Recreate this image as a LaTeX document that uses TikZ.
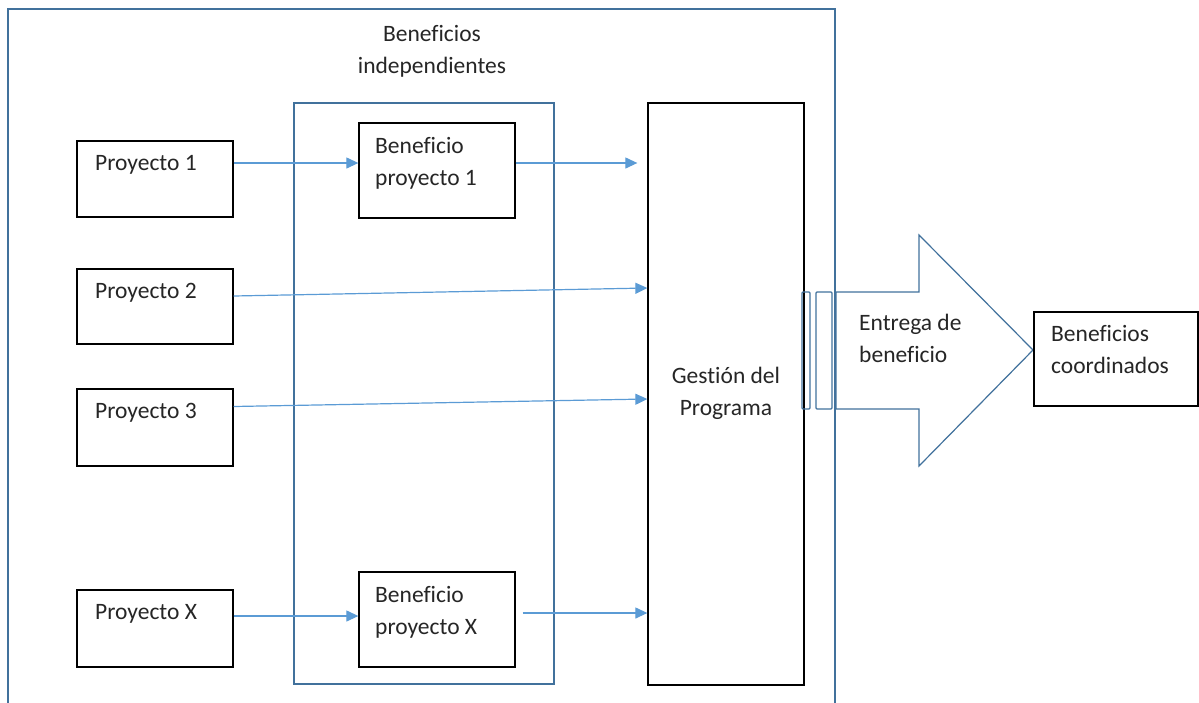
\documentclass[tikz,border=0pt]{standalone}
\usepackage{fontspec}
\setmainfont{Carlito}[Ligatures=NoCommon]
\usetikzlibrary{arrows.meta}
\definecolor{frameblue}{RGB}{65,113,156}
\definecolor{arrowblue}{RGB}{91,155,213}
\definecolor{inkgray}{RGB}{38,38,38}

\begin{document}
\begin{tikzpicture}[x=1pt,y=-1pt,
  box/.style={draw=black, line width=1.3pt, fill=white, inner sep=0pt,
              minimum width=156pt},
  frame/.style={draw=frameblue, line width=1.2pt, inner sep=0pt},
  arr/.style={draw=arrowblue, line width=1.2pt,
              -{Triangle[length=12pt,width=11pt]}},
  lbl/.style={inner sep=0pt, font=\fontsize{23.5}{32}\selectfont,
              text=inkgray, align=left},
]
\useasboundingbox (0,0) rectangle (1199,702);
\clip (0,0) rectangle (1199,702);

% frames
\node[frame, minimum width=827pt, minimum height=711pt] (outer) at (421.5,364.5) {};
\node[frame, minimum width=260pt, minimum height=581pt] (inner) at (424,393.5) {};
\node[lbl, align=center, anchor=base] (title) at (432,73) {Beneficios\\independientes};

% project boxes
\node[box, minimum height=76pt] (p1) at (155,179) {};
\node[box, minimum height=75pt] (p2) at (155,306.5) {};
\node[box, minimum height=77pt] (p3) at (155,427.5) {};
\node[box, minimum height=77pt] (px) at (155,628.5) {};
\node[lbl, anchor=base west] (p1t) at (95,170) {Proyecto 1};
\node[lbl, anchor=base west] (p2t) at (95,298) {Proyecto 2};
\node[lbl, anchor=base west] (p3t) at (95,418) {Proyecto 3};
\node[lbl, anchor=base west] (pxt) at (95,619) {Proyecto X};

% benefit boxes
\node[box, minimum height=95pt] (b1) at (437,170.5) {};
\node[box, minimum height=95pt] (bx) at (437,619.5) {};
\node[lbl, anchor=base west] (b1t) at (375,185) {Beneficio\\proyecto 1};
\node[lbl, anchor=base west] (bxt) at (375,634) {Beneficio\\proyecto X};

% programme management
\node[box, minimum height=582pt] (gp) at (726,394) {};
\node[lbl, align=center, anchor=base] (gpt) at (726,415) {Gestión del\\Programa};

% connectors
\draw[arr] ([yshift=16pt]p1.east) -- ([yshift=7.5pt]b1.west);
\draw[arr] ([yshift=7.5pt]b1.east) -- ([xshift=-10pt,yshift=7.5pt]b1.east -| gp.west);
\draw[arr] ([yshift=10.5pt]p2.east) -- ([yshift=106pt]gp.west);
\draw[arr] ([yshift=21pt]p3.east) -- ([yshift=-5pt]gp.west);
\draw[arr] ([yshift=12.5pt]px.east) -- ([yshift=3.5pt]bx.west);
\draw[arr] ([xshift=7pt,yshift=6.5pt]bx.east) -- ([yshift=6.5pt]bx.east -| gp.west);

% delivery arrow
\draw[frame, rounded corners=1pt] (802,292) rectangle (810,409);
\draw[frame, rounded corners=1pt] (816,292) rectangle (832,409);
\draw[frame, fill=white, line join=miter] (836,292) -- (919,292) -- (919,235) -- (1033,350)
  -- (919,466) -- (919,409) -- (836,409) -- cycle;
\node[lbl, anchor=base west] (deliv) at (859,362) {Entrega de\\beneficio};

% coordinated benefits
\node[box, minimum width=164pt, minimum height=94pt] (bc) at (1116,359) {};
\node[lbl, anchor=base west] (bct) at (1051,373) {Beneficios\\coordinados};
\end{tikzpicture}
\end{document}
